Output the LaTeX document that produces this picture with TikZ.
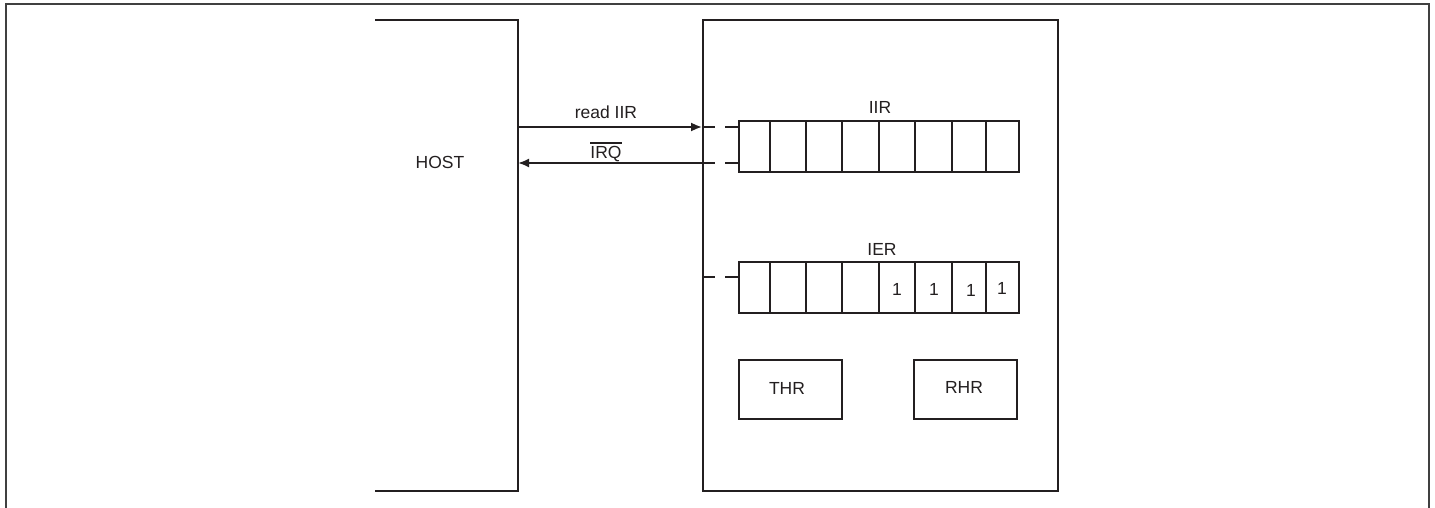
\documentclass[tikz,border=0pt]{standalone}
\usepackage{fontspec}
\setmainfont{Liberation Sans}
\usetikzlibrary{arrows.meta}
\definecolor{ink}{HTML}{231F20}
\newsavebox{\ovlbox}
\newcommand{\myovl}[1]{\sbox{\ovlbox}{#1}\rlap{\raisebox{\dimexpr\ht\ovlbox+2pt\relax}{\rule{\wd\ovlbox}{1.3pt}}}\usebox{\ovlbox}}
\begin{document}
\begin{tikzpicture}[x=1pt,y=-1pt,
  line width=1.8pt, draw=ink, text=ink,
  every node/.style={font=\fontsize{17.5}{19}\selectfont, text=ink, inner sep=0pt},
  box/.style={draw=ink, line width=1.8pt, rectangle, inner sep=0pt},
  arr/.style={draw=ink, line width=2pt, -{Latex[length=11pt,width=9pt]}},
  stub/.style={draw=ink, line width=2pt, dash pattern=on 13pt off 10pt on 14pt}]
\useasboundingbox (0,0) rectangle (1435,508);
% outer frame (open at bottom)
\draw[draw=black!75, line width=1.5pt] (6,508) -- (6,4) -- (1429,4) -- (1429,508);
% HOST bracket
\draw[line width=2.4pt] (375,20) -- (518,20) -- (518,491) -- (375,491);
\coordinate (hostR) at (518,20);
\node (host) at (440,162) {HOST};
% device box
\node[box, minimum width=355pt, minimum height=471pt] (dev) at (880.5,255.5) {};
% IIR register
\node[box, minimum width=280pt, minimum height=51pt] (iir) at (879,146.5) {};
\node (iirlbl) at (880,107) {IIR};
\foreach \x in {770,806,842,879,915,952,986}
  \draw (\x,121) -- (\x,172);
% IER register
\node[box, minimum width=280pt, minimum height=51pt] (ier) at (879,287.5) {};
\node (ierlbl) at (882,249) {IER};
\foreach \x in {770,806,842,879,915,952,986}
  \draw (\x,262) -- (\x,313);
\node (b4) at (897,289) {1};
\node (b5) at (934,289) {1};
\node (b6) at (971,290) {1};
\node (b7) at (1002,288) {1};
% THR / RHR
\node[box, minimum width=103pt, minimum height=59pt] (thr) at (790.5,389.5) {};
\node (thrlbl) at (787,388) {THR};
\node[box, minimum width=103pt, minimum height=59pt] (rhr) at (965.5,389.5) {};
\node (rhrlbl) at (964,387) {RHR};
% connectors
\coordinate (ya) at (0,127);
\coordinate (yb) at (0,163);
\coordinate (yc) at (0,277);
\draw[arr] (hostR |- ya) -- (dev.west |- ya);
\draw[arr] (dev.west |- yb) -- (hostR |- yb);
\node (readlbl) at (606,112) {read IIR};
\node[anchor=base] (irqlbl) at (606,158) {\myovl{IRQ}};
\draw[stub] (dev.west |- ya) -- (iir.west |- ya);
\draw[stub] (dev.west |- yb) -- (iir.west |- yb);
\draw[stub] (dev.west |- yc) -- (ier.west |- yc);
\end{tikzpicture}
\end{document}
